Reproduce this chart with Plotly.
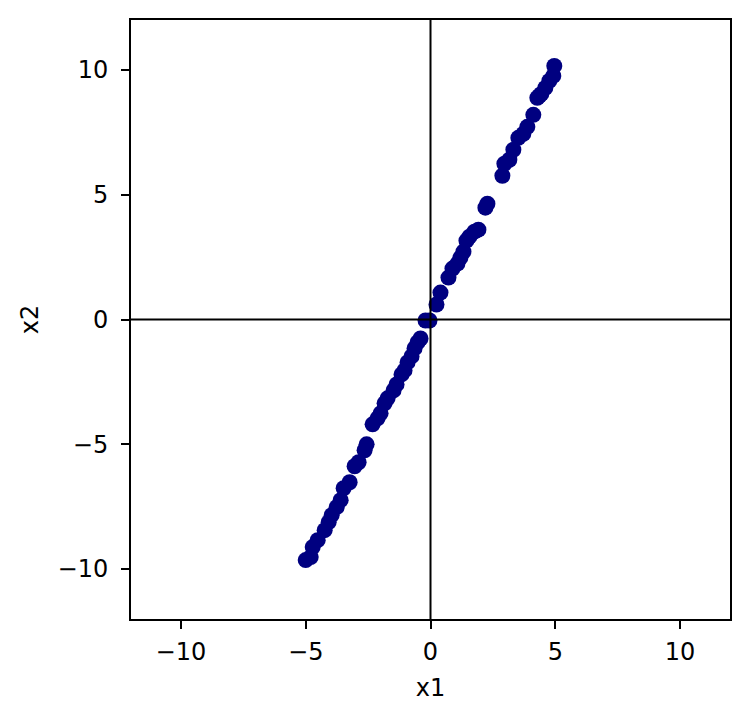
import plotly.graph_objects as go

x1 = [4.96, 4.92, 4.76, 4.6, 4.44, 4.28, 4.36, 4.12, 3.88, 3.72, 3.52, 3.32, 3.16, 2.96, 2.88,
      2.28, 2.2, 1.92, 1.76, 1.56, 1.44, 1.32, 1.2, 1.08, 0.88, 0.72, 0.4, 0.24, -0.04, -0.2,
      -0.4, -0.52, -0.64, -0.76, -0.92, -1.04, -1.16, -1.36, -1.48, -1.72, -1.84, -2.0, -2.12,
      -2.32, -2.56, -2.64, -2.88, -3.04, -3.24, -3.48, -3.6, -3.76, -3.96, -4.08, -4.24, -4.52,
      -4.72, -4.8, -5.0]
x2 = [10.16, 9.76, 9.56, 9.28, 9.04, 8.88, 8.96, 8.2, 7.72, 7.44, 7.28, 6.8, 6.4, 6.24, 5.76,
      4.64, 4.48, 3.6, 3.52, 3.32, 3.16, 2.72, 2.48, 2.24, 2.04, 1.68, 1.08, 0.6, -0.04, -0.04,
      -0.76, -0.92, -1.16, -1.48, -1.72, -2.04, -2.2, -2.6, -2.84, -3.16, -3.36, -3.76, -3.96,
      -4.2, -5.0, -5.24, -5.72, -5.88, -6.52, -6.76, -7.24, -7.52, -7.84, -8.12, -8.44, -8.84,
      -9.12, -9.52, -9.64]

tick_vals = [-10, -5, 0, 5, 10]
axis_range = [-12, 12]

fig = go.Figure(go.Scatter(x=x1, y=x2, mode="markers",
                           marker=dict(color="#000080", size=16, line=dict(width=0))))

axis_style = dict(range=axis_range, tickvals=tick_vals, showgrid=False, zeroline=False,
                  showline=True, mirror=True, linecolor="black", linewidth=2,
                  ticks="outside", ticklen=8, tickwidth=2, tickcolor="black",
                  tickfont=dict(size=24, color="black"))

fig.update_xaxes(**axis_style, ticklabelstandoff=2,
                 title=dict(text="x1", font=dict(size=24, color="black"), standoff=14))
fig.update_yaxes(**axis_style, ticklabelstandoff=8,
                 title=dict(text="x2", font=dict(size=24, color="black"), standoff=12))

fig.add_shape(type="line", xref="x", yref="paper", x0=0, x1=0, y0=0, y1=1,
              line=dict(color="black", width=2), layer="above")
fig.add_shape(type="line", xref="paper", yref="y", x0=0, x1=1, y0=0, y1=0,
              line=dict(color="black", width=2), layer="above")

fig.update_layout(width=750, height=720, plot_bgcolor="white", paper_bgcolor="white",
                  margin=dict(l=123, r=28, t=10, b=109),
                  font=dict(family="DejaVu Sans", color="black"), showlegend=False)

fig.write_html("out.html")
